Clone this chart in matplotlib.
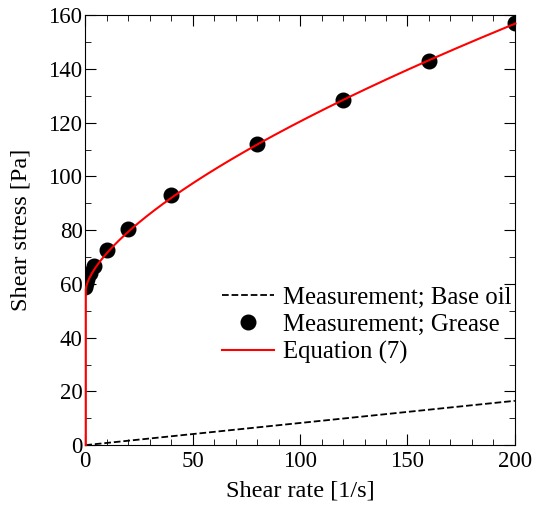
import matplotlib.pyplot as plt
import numpy as np
from matplotlib.ticker import MultipleLocator

plt.rcParams['font.family'] = ['Liberation Serif', 'DejaVu Serif']
plt.rcParams['mathtext.fontset'] = 'stix'

# measured grease data
grease_rate = [0.1, 0.5, 1, 2, 4, 10, 20, 40, 80, 120, 160, 200]
grease_stress = [59, 60.5, 62, 64, 66.5, 72.5, 80.5, 93, 112, 128.5, 143, 157]

# base oil (newtonian)
base_rate = [0, 200]
base_stress = [0, 16.5]

# Equation (7): Herschel-Bulkley fit
tau0, K, n = 58.0, 2.98, 0.661
rate_fit = np.concatenate([[0.0], np.linspace(0, 200, 800)])
stress_fit = tau0 + K * rate_fit ** n
stress_fit[0] = 0.0

fig = plt.figure(figsize=(5.33, 5.07), dpi=100)
ax = fig.add_axes([0.160, 0.122, 0.806, 0.848])

ax.plot(base_rate, base_stress, color='black', ls='--', lw=1.3, label='Measurement; Base oil')
ax.plot(grease_rate, grease_stress, 'o', color='black', ms=10.5, label='Measurement; Grease')
ax.plot(np.array(rate_fit) + 0.25, stress_fit, color='red', lw=1.5, label='Equation (7)',
        zorder=3, clip_on=False)

ax.set_xlim(0, 200)
ax.set_ylim(0, 160)
ax.xaxis.set_major_locator(MultipleLocator(50))
ax.xaxis.set_minor_locator(MultipleLocator(10))
ax.yaxis.set_major_locator(MultipleLocator(20))
ax.yaxis.set_minor_locator(MultipleLocator(10))
ax.tick_params(which='both', direction='in', top=True, right=True, labelsize=16.5, pad=2)
ax.tick_params(axis='x', which='both', pad=4)
ax.tick_params(which='major', length=8)
ax.tick_params(which='minor', length=4)

ax.set_xlabel('Shear rate [1/s]', fontsize=17.5, labelpad=6)
ax.set_ylabel('Shear stress [Pa]', fontsize=17.5, labelpad=12)

ax.legend(loc='lower right', bbox_to_anchor=(1.015, 0.166), frameon=False, fontsize=17.8,
          handlelength=2.1, handletextpad=0.35, labelspacing=0.2, borderaxespad=0)

fig.savefig('out.png', dpi=100)
